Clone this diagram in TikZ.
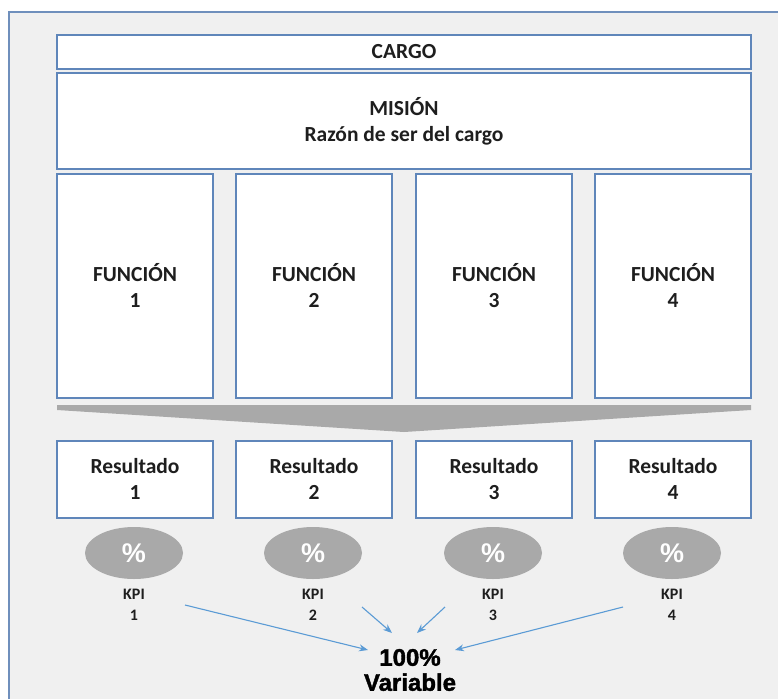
\documentclass[tikz,border=0pt]{standalone}
\usepackage{fontspec}
\setmainfont{Carlito}[Numbers=Lining]
\newfontfamily\arialfont{Liberation Sans}
\newfontfamily\heavyfont{Liberation Sans}[BoldFeatures={FakeBold=1.6}]
\usetikzlibrary{shapes.geometric,arrows.meta,calc}
\definecolor{frameblue}{HTML}{6F8FBC}
\definecolor{boxblue}{HTML}{5F86BA}
\definecolor{bggrey}{HTML}{F0F0F0}
\definecolor{shapegrey}{HTML}{A9A9A9}
\definecolor{arrowblue}{HTML}{5B9BD5}
\definecolor{txt}{HTML}{1E1E1E}
\tikzset{
  box/.style={draw=boxblue, line width=1.4pt, fill=white, rectangle, inner sep=0pt,
    align=center, text=txt, font=\fontsize{21.5}{26}\selectfont\bfseries},
  kpiel/.style={ellipse, fill=shapegrey, draw=none, minimum width=98pt, minimum height=52pt,
    inner sep=0pt, text=white, font=\arialfont\fontsize{27}{30}\selectfont\bfseries},
  kpitxt/.style={align=center, text=txt, inner sep=0pt, font=\fontsize{16}{21}\selectfont\bfseries},
  conn/.style={draw=arrowblue, line width=1.1pt, -{Stealth[length=9pt,width=7pt]}},
}
\begin{document}
\begin{tikzpicture}[x=1pt,y=-1pt]
\useasboundingbox (0,0) rectangle (778,699);
% background frame
\fill[bggrey] (9,12) rectangle (778,699);
\draw[frameblue, line width=2pt] (9,699) -- (9,12) -- (778,12);
% top boxes
\node[box, minimum width=694pt, minimum height=34pt] (cargo) at (404,52) {CARGO};
\node[box, minimum width=694pt, minimum height=96pt] (mision) at (404,121) {MISIÓN\\Razón de ser del cargo};
% function boxes
\foreach \i/\x in {1/135,2/314,3/494,4/673}{
  \node[box, minimum width=156pt, minimum height=224pt] (f\i) at (\x,286) {FUNCIÓN\\\vphantom{3}\i};
  \node[box, minimum width=156pt, minimum height=77pt] (r\i) at (\x,479.5) {Resultado\\\vphantom{3}\i};
}
% chevron
\fill[shapegrey] (57,405) -- (751,405) -- (751,410) -- (404,432) -- (57,410) -- cycle;
% KPIs
\foreach \i/\x in {1/134,2/313,3/493,4/672}{
  \node[kpiel] (e\i) at (\x,553) {\%};
  \node[kpitxt] (k\i) at (\x,605) {KPI\\\vphantom{3}\i};
}
% result
\node[align=center, text=black, inner sep=0pt, font=\heavyfont\fontsize{24}{25}\selectfont\bfseries] (var) at (410,670) {100\%\\Variable};
% arrow endpoints
\coordinate (s1) at ($(k1)+(51,0)$);
\coordinate (s2) at ($(k2)+(49,2)$);
\coordinate (s3) at ($(k3)+(-48,2)$);
\coordinate (s4) at ($(k4)+(-49,2)$);
\coordinate (t1) at ($(var)+(-42,-20)$);
\coordinate (t2) at ($(var)+(-18,-37)$);
\coordinate (t3) at ($(var)+(7,-37)$);
\coordinate (t4) at ($(var)+(45,-20)$);
\foreach \i in {1,2,3,4}{\draw[conn] (s\i) -- (t\i);}
\end{tikzpicture}
\end{document}
